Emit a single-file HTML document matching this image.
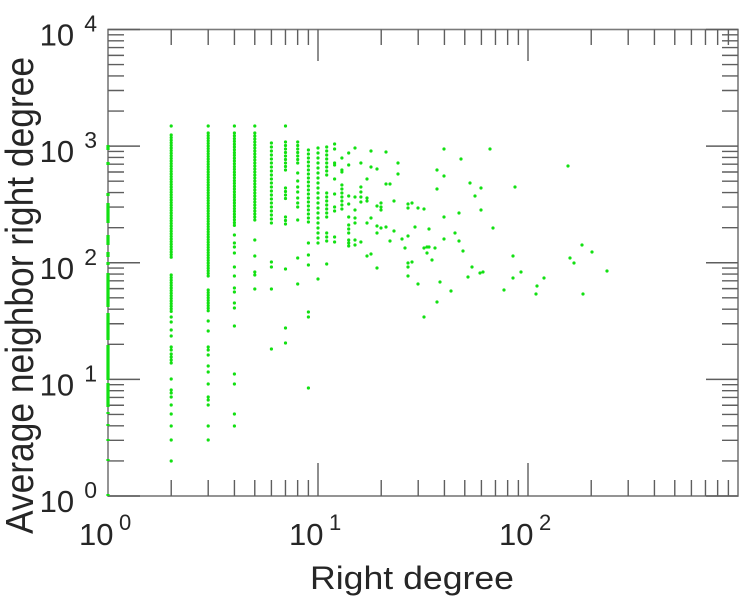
<!DOCTYPE html>
<html>
<head>
<meta charset="utf-8">
<style>
  html, body { margin: 0; padding: 0; background: #ffffff; }
  svg { display: block; }
  text { font-family: "Liberation Sans", "DejaVu Sans", sans-serif; fill: #262626; }
</style>
</head>
<body>
<svg width="739" height="600" viewBox="0 0 739 600" xmlns="http://www.w3.org/2000/svg">
  <rect x="0" y="0" width="739" height="600" fill="#ffffff"/>

  <!-- frame -->
  <rect x="108" y="29.5" width="630" height="466.5" fill="none" stroke="#7a7a7a" stroke-width="1.6"/>

  <!-- ticks -->
  <path fill="none" stroke="#5e5e5e" stroke-width="1.4" d="
  M108 460.89h16M108 440.36h16M108 425.79h16M108 414.48h16M108 405.25h16M108 397.44h16M108 390.68h16M108 384.71h16
  M108 344.27h16M108 323.74h16M108 309.17h16M108 297.86h16M108 288.63h16M108 280.82h16M108 274.06h16M108 268.09h16
  M108 227.64h16M108 207.11h16M108 192.54h16M108 181.23h16M108 172h16M108 164.19h16M108 157.43h16M108 151.46h16
  M108 111.02h16M108 90.49h16M108 75.92h16M108 64.61h16M108 55.38h16M108 47.57h16M108 40.81h16M108 34.84h16
  M738 460.89h-16M738 440.36h-16M738 425.79h-16M738 414.48h-16M738 405.25h-16M738 397.44h-16M738 390.68h-16M738 384.71h-16
  M738 344.27h-16M738 323.74h-16M738 309.17h-16M738 297.86h-16M738 288.63h-16M738 280.82h-16M738 274.06h-16M738 268.09h-16
  M738 227.64h-16M738 207.11h-16M738 192.54h-16M738 181.23h-16M738 172h-16M738 164.19h-16M738 157.43h-16M738 151.46h-16
  M738 111.02h-16M738 90.49h-16M738 75.92h-16M738 64.61h-16M738 55.38h-16M738 47.57h-16M738 40.81h-16M738 34.84h-16
  M108 29.5h32M108 146.125h32M108 262.75h32M108 379.375h32M108 496h32
  M738 29.5h-32M738 146.125h-32M738 262.75h-32M738 379.375h-32M738 496h-32
  M171.22 29.5v15.5M208.2 29.5v15.5M234.43 29.5v15.5M254.78 29.5v15.5M271.41 29.5v15.5M285.47 29.5v15.5M297.65 29.5v15.5M308.39 29.5v15.5
  M381.22 29.5v15.5M418.2 29.5v15.5M444.43 29.5v15.5M464.78 29.5v15.5M481.41 29.5v15.5M495.47 29.5v15.5M507.65 29.5v15.5M518.39 29.5v15.5
  M591.22 29.5v15.5M628.2 29.5v15.5M654.43 29.5v15.5M674.78 29.5v15.5M691.41 29.5v15.5M705.47 29.5v15.5M717.65 29.5v15.5M728.39 29.5v15.5
  M171.22 496v-16M208.2 496v-16M234.43 496v-16M254.78 496v-16M271.41 496v-16M285.47 496v-16M297.65 496v-16M308.39 496v-16
  M381.22 496v-16M418.2 496v-16M444.43 496v-16M464.78 496v-16M481.41 496v-16M495.47 496v-16M507.65 496v-16M518.39 496v-16
  M591.22 496v-16M628.2 496v-16M654.43 496v-16M674.78 496v-16M691.41 496v-16M705.47 496v-16M717.65 496v-16M728.39 496v-16
  M318 29.5v31.5M528 29.5v31.5M318 496v-33M528 496v-33
  "/>

  <!-- data: x = 1 column -->
  <path fill="none" stroke="#12e012" stroke-width="3.2" d="
  M108 145v5M108 162v3M108 193v3M108 203v20M108 235v10M108 252v5M108 262v3M108 273v34M108 313v27M108 345v35M108 383v24
  M108 412v2M108 424v2M108 439v2M108 459v2M108 494v2"/>

  <!-- dense columns -->
  <g fill="none" stroke="#12e012" stroke-width="3.2" stroke-linecap="round">
    <path stroke-dasharray="0 2.6" d="M171.2 135V258M171.2 275V312M208.2 133V277M208.2 290V312"/>
    <path stroke-dasharray="0 2.8" d="M234.4 133V227"/>
    <path stroke-dasharray="0 3" d="M254.8 133V223"/>
    <path stroke-dasharray="0 4" d="M271.4 143V227M308.4 150V223M326.7 147V177M326.7 193V221M326.7 233V243M341.9 185V213"/>
    <path stroke-dasharray="0 3.5" d="M285.5 142V173M285.5 188V202M285.5 217V227M297.7 142V165"/>
    <path stroke-dasharray="0 5" d="M318 148V245M360.9 187V207"/>
  </g>

  <!-- sparse points -->
  <path fill="none" stroke="#12e012" stroke-width="3.2" stroke-linecap="round" d="
  M171.2 126h0M171.2 317h0M171.2 322h0M171.2 330h0M171.2 336h0M171.2 347h0M171.2 350h0M171.2 354h0M171.2 357h0M171.2 360h0M171.2 363h0M171.2 379h0M171.2 390h0M171.2 393h0M171.2 397h0M171.2 405h0M171.2 414h0M171.2 426h0M171.2 440h0M171.2 461h0
  M208.2 126h0M208.2 321h0M208.2 331h0M208.2 347h0M208.2 350h0M208.2 355h0M208.2 366h0M208.2 372h0M208.2 384h0M208.2 397h0M208.2 400h0M208.2 405h0M208.2 426h0M208.2 440h0
  M234.4 126h0M234.4 235h0M234.4 243h0M234.4 247h0M234.4 253h0M234.4 267h0M234.4 276h0M234.4 288h0M234.4 292h0M234.4 303h0M234.4 308h0M234.4 326h0M234.4 374h0M234.4 384h0M234.4 414h0M234.4 426h0
  M254.8 126h0M254.8 240h0M254.8 256h0M254.8 272h0M254.8 275h0M254.8 289h0
  M271.4 262h0M271.4 267h0M271.4 289h0M271.4 349h0
  M285.5 126h0M285.5 269h0M285.5 328h0M285.5 343h0
  M297.7 173h0M297.7 181h0M297.7 187h0M297.7 192h0M297.7 198h0M297.7 203h0M297.7 207h0M297.7 220h0M297.7 258h0M297.7 284h0
  M308.4 243h0M308.4 255h0M308.4 265h0M308.4 312h0M308.4 317h0M308.4 388h0
  M318 279h0M326.7 264h0
  M334.6 144h0M334.6 149h0M334.6 163h0M334.6 165h0M334.6 179h0M334.6 194h0M334.6 207h0M334.6 211h0M334.6 237h0M334.6 242h0
  M341.9 158h0M341.9 170h0M341.9 172h0
  M348.7 153h0M348.7 165h0M348.7 196h0M348.7 204h0M348.7 217h0M348.7 225h0M348.7 229h0M348.7 233h0M348.7 240h0M348.7 243h0M348.7 246h0
  M355 148h0M355 197h0M355 210h0M355 218h0M355 223h0M355 240h0M355 245h0
  M360.9 163h0M360.9 242h0
  M367 179h0M367 198h0M367 201h0M367 223h0M367 256h0
  M371 151h0M371 167h0M371 218h0M371 254h0
  M377 169h0M377 206h0M377 226h0M377 233h0M377 268h0
  M381 203h0M381 207h0M381 210h0M381 228h0
  M386 152h0M386 184h0M386 227h0
  M390 184h0M390 241h0
  M394 201h0M394 231h0
  M398 163h0M398 174h0
  M402 239h0M405 248h0
  M408 204h0M408 208h0M408 236h0M408 263h0M408 267h0M408 276h0
  M412 203h0M412 262h0M415 227h0
  M418 208h0M418 284h0
  M424 209h0M424 248h0M424 317h0
  M427 247h0M427 253h0M429 229h0M429 247h0
  M432 260h0M435 248h0
  M437 170h0M437 189h0M437 302h0M440 282h0
  M444 149h0M444 176h0M444 217h0M444 239h0
  M451 291h0M455 233h0M459 213h0M459 241h0M461 159h0M463 251h0
  M468 277h0M470 183h0M472 267h0M475 196h0M480 273h0M481 188h0M481 210h0M483 272h0
  M490 149h0M493 228h0M504 290h0M513 256h0M513 278h0M515 187h0M521 272h0
  M536 294h0M537 286h0M544 278h0
  M568 166h0M570 258h0M574 263h0M582 245h0M583 294h0M592 252h0M607 271h0
  "/>

  <!-- x tick labels -->
  <text x="79" y="545" font-size="31">10</text>
  <text x="119" y="530" font-size="22">0</text>
  <text x="289" y="545" font-size="31">10</text>
  <text x="329" y="530" font-size="22">1</text>
  <text x="499" y="545" font-size="31">10</text>
  <text x="539" y="530" font-size="22">2</text>

  <!-- y tick labels -->
  <text x="39.6" y="512" font-size="31">10</text>
  <text x="97" y="498" font-size="23" text-anchor="end">0</text>
  <text x="39.6" y="395.4" font-size="31">10</text>
  <text x="97" y="381.4" font-size="23" text-anchor="end">1</text>
  <text x="39.6" y="278.75" font-size="31">10</text>
  <text x="97" y="264.75" font-size="23" text-anchor="end">2</text>
  <text x="39.6" y="162.1" font-size="31">10</text>
  <text x="97" y="148.1" font-size="23" text-anchor="end">3</text>
  <text x="39.6" y="45.5" font-size="31">10</text>
  <text x="97" y="31.5" font-size="23" text-anchor="end">4</text>

  <!-- axis labels -->
  <text x="310" y="589" font-size="32" textLength="204" lengthAdjust="spacingAndGlyphs">Right degree</text>
  <text transform="translate(33,534) rotate(-90) scale(1,1.22)" x="0" y="0" font-size="32" textLength="477" lengthAdjust="spacingAndGlyphs">Average neighbor right degree</text>
</svg>
</body>
</html>
